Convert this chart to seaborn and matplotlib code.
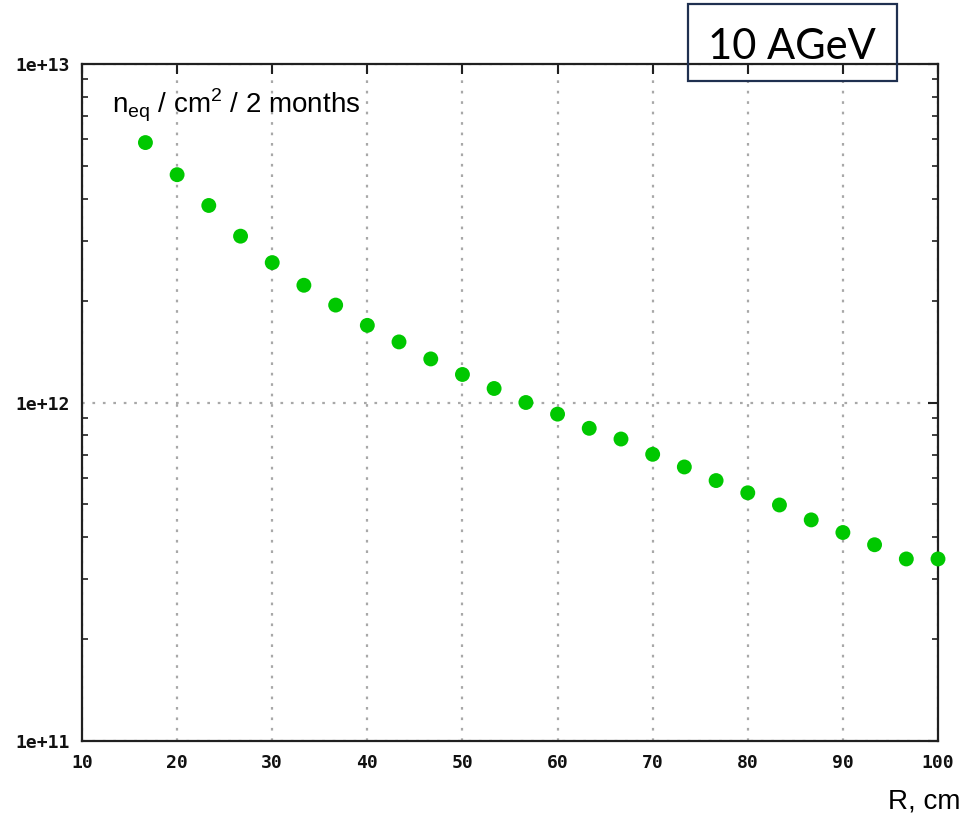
import numpy as np
import pandas as pd
import matplotlib
matplotlib.use("Agg")
import matplotlib.pyplot as plt
import seaborn as sns
from matplotlib.ticker import FixedLocator, LogLocator, NullFormatter, FixedFormatter
from matplotlib.patches import Rectangle

# ---- data ----
r_cm = [16.67, 20.0, 23.33, 26.67, 30.0, 33.33, 36.67, 40.0, 43.33, 46.67,
        50.0, 53.33, 56.67, 60.0, 63.33, 66.67, 70.0, 73.33, 76.67, 80.0,
        83.33, 86.67, 90.0, 93.33, 96.67, 100.0]
fluence = [5.86e12, 4.71e12, 3.82e12, 3.10e12, 2.59e12, 2.22e12, 1.94e12, 1.69e12,
           1.51e12, 1.345e12, 1.21e12, 1.10e12, 1.00e12, 0.924e12, 0.839e12, 0.780e12,
           0.703e12, 0.645e12, 0.588e12, 0.541e12, 0.498e12, 0.450e12, 0.413e12,
           0.380e12, 0.345e12, 0.345e12]
x_ticks = [10, 20, 30, 40, 50, 60, 70, 80, 90, 100]
x_labels = ["10", "20", "30", "40", "50", "60", "70", "80", "90", "100"]
y_ticks = [1e11, 1e12, 1e13]
y_labels = ["1e+11", "1e+12", "1e+13"]
ylabel_text = r"n$_{\mathregular{eq}}$ / cm$^{\mathregular{2}}$ / 2 months"
xlabel_text = "R, cm"
title_text = "10 AGeV"

df = pd.DataFrame({"R": r_cm, "F": fluence})

sns.set_style("white")
plt.rcParams["font.family"] = ["Liberation Sans", "DejaVu Sans"]

W, H = 969, 818
fig = plt.figure(figsize=(W / 100, H / 100), dpi=100)
ax = fig.add_axes([82 / W, 1 - 741 / H, (938 - 82) / W, (741 - 64) / H])

sns.scatterplot(data=df, x="R", y="F", ax=ax, color="#00c800", marker="o",
                s=115, edgecolor="none", zorder=3, clip_on=False)

ax.set_yscale("log")
ax.set_xlim(10, 100)
ax.set_ylim(1e11, 1e13)

ax.xaxis.set_major_locator(FixedLocator(x_ticks))
ax.xaxis.set_major_formatter(FixedFormatter(x_labels))
ax.yaxis.set_major_locator(FixedLocator(y_ticks))
ax.yaxis.set_major_formatter(FixedFormatter(y_labels))
ax.yaxis.set_minor_locator(LogLocator(base=10, subs=np.arange(2, 10)))
ax.yaxis.set_minor_formatter(NullFormatter())

ax.tick_params(axis="both", which="major", direction="in", length=7, width=1.5,
               top=True, right=True, color="#202020")
ax.tick_params(axis="y", which="minor", direction="in", length=4, width=1.2,
               left=True, right=True, color="#202020")
ax.tick_params(axis="x", which="major", pad=9)
ax.tick_params(axis="y", which="major", pad=9)
for lab in ax.get_xticklabels() + ax.get_yticklabels():
    lab.set_fontfamily("DejaVu Sans Mono")
    lab.set_fontweight("bold")
    lab.set_fontsize(13)
    lab.set_color("#111111")

ax.grid(True, which="major", axis="both", color="#a8a8a8", linestyle=(0, (1.2, 3.5)),
        linewidth=1.6)
for sp in ax.spines.values():
    sp.set_linewidth(1.6)
    sp.set_color("#202020")

ax.set_xlabel("")
ax.set_ylabel("")

fig.text(112 / W, 1 - 113 / H, ylabel_text, fontsize=20, ha="left", va="baseline",
         color="black")
fig.text(961 / W, 1 - 808 / H, xlabel_text, fontsize=20, ha="right", va="baseline",
         color="black")

fig.patches.append(Rectangle((688 / W, 1 - 81 / H), (897 - 688) / W, (81 - 4) / H,
                             transform=fig.transFigure, fill=False,
                             edgecolor="#1f3050", linewidth=1.6, zorder=5))
fig.text(792 / W, 1 - 59 / H, title_text, fontsize=30, ha="center", va="baseline",
         family=["Lato", "DejaVu Sans"], color="black", zorder=6)

fig.savefig("out.png", dpi=100)
